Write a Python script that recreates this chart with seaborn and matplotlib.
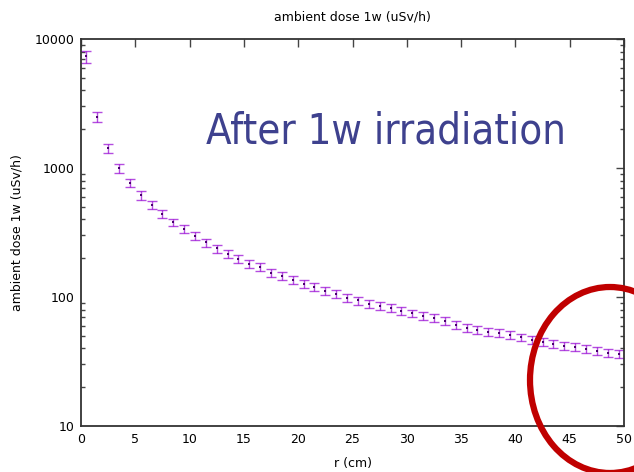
import numpy as np
import pandas as pd
import matplotlib
matplotlib.use("Agg")
import matplotlib.pyplot as plt
from matplotlib.patches import Ellipse
from matplotlib.ticker import LogLocator, FixedLocator, NullFormatter
import seaborn as sns

r_cm = [0.5, 1.5, 2.5, 3.5, 4.5, 5.5, 6.5, 7.5, 8.5, 9.5,
        10.5, 11.5, 12.5, 13.5, 14.5, 15.5, 16.5, 17.5, 18.5, 19.5,
        20.5, 21.5, 22.5, 23.5, 24.5, 25.5, 26.5, 27.5, 28.5, 29.5,
        30.5, 31.5, 32.5, 33.5, 34.5, 35.5, 36.5, 37.5, 38.5, 39.5,
        40.5, 41.5, 42.5, 43.5, 44.5, 45.5, 46.5, 47.5, 48.5, 49.5]
dose = [7350, 2485, 1422, 995, 769, 614, 517, 442, 379, 337,
        297, 265, 238, 217, 197, 180, 170, 154, 145, 135,
        127, 119, 112, 105, 99, 94, 89, 85.6, 82.6, 78.3,
        74.7, 71.6, 69.1, 65.5, 60.3, 57.5, 55.5, 53.8, 52.3, 50.5,
        48.7, 46.4, 45.0, 43.2, 41.9, 41.0, 39.7, 38.4, 36.6, 36.2]
dose_err = [780, 230, 110, 75, 57, 45, 38, 32, 27, 24,
            21, 19, 17, 15, 14, 13, 12, 11, 10, 9.5,
            9, 8.4, 7.9, 7.4, 7.0, 6.6, 6.3, 6.0, 5.8, 5.5,
            5.3, 5.0, 4.9, 4.6, 4.3, 4.1, 3.9, 3.8, 3.7, 3.6,
            3.4, 3.3, 3.2, 3.1, 3.0, 2.9, 2.8, 2.7, 2.6, 2.6]
x_ticks = [0, 5, 10, 15, 20, 25, 30, 35, 40, 45, 50]
y_ticks = [10, 100, 1000, 10000]

df = pd.DataFrame({"r": r_cm, "dose": dose, "err": dose_err})

sns.set_style("white")
plt.rcParams['font.family'] = ['DejaVu Sans']

fig = plt.figure(figsize=(6.34, 4.72), dpi=100)
ax = fig.add_axes([81/634, 1-426/472, (624-81)/634, (426-39)/472])

purple = "#9400d3"
ax.errorbar(df["r"], df["dose"], yerr=df["err"], fmt="none", ecolor=purple,
            elinewidth=1.0, capsize=3.5, capthick=1.0, alpha=0.7, zorder=2)
sns.scatterplot(data=df, x="r", y="dose", ax=ax, color="#4b0070", s=2,
                linewidth=0, marker="s", zorder=3, legend=False)

ax.set_yscale("log")
ax.set_xlim(0, 50)
ax.set_ylim(10, 10000)
ax.xaxis.set_major_locator(FixedLocator(x_ticks))
ax.set_xticklabels([str(t) for t in x_ticks])
ax.yaxis.set_major_locator(FixedLocator(y_ticks))
ax.set_yticklabels([str(t) for t in y_ticks])
ax.yaxis.set_minor_locator(LogLocator(base=10, subs=np.arange(2, 10)))
ax.yaxis.set_minor_formatter(NullFormatter())

ax.tick_params(axis="both", which="major", direction="in", length=6, width=1,
               color="#444444", top=True, right=True, labelsize=9, pad=5,
               labelcolor="black")
ax.tick_params(axis="y", which="minor", direction="in", length=3, width=1,
               color="#444444", right=True, left=True)
for s in ax.spines.values():
    s.set_color("#333333")
    s.set_linewidth(1.3)

ax.set_xlabel("r (cm)", fontsize=9, labelpad=8, color="black")
ax.set_ylabel("ambient dose 1w (uSv/h)", fontsize=9, labelpad=8, color="black")
ax.set_title("ambient dose 1w (uSv/h)", fontsize=9, pad=13, color="black")

fig.text(386/634, 1-132/472, "After 1w irradiation", fontsize=30,
         color="#3e418e", ha="center", va="center", fontstretch="condensed")

ell = Ellipse((610/634, 1-380/472), width=160/634, height=186/472,
              transform=fig.transFigure, fill=False, edgecolor="#c00000",
              linewidth=4.5, zorder=10, clip_on=False)
fig.add_artist(ell)

fig.savefig("out.png", dpi=100)
